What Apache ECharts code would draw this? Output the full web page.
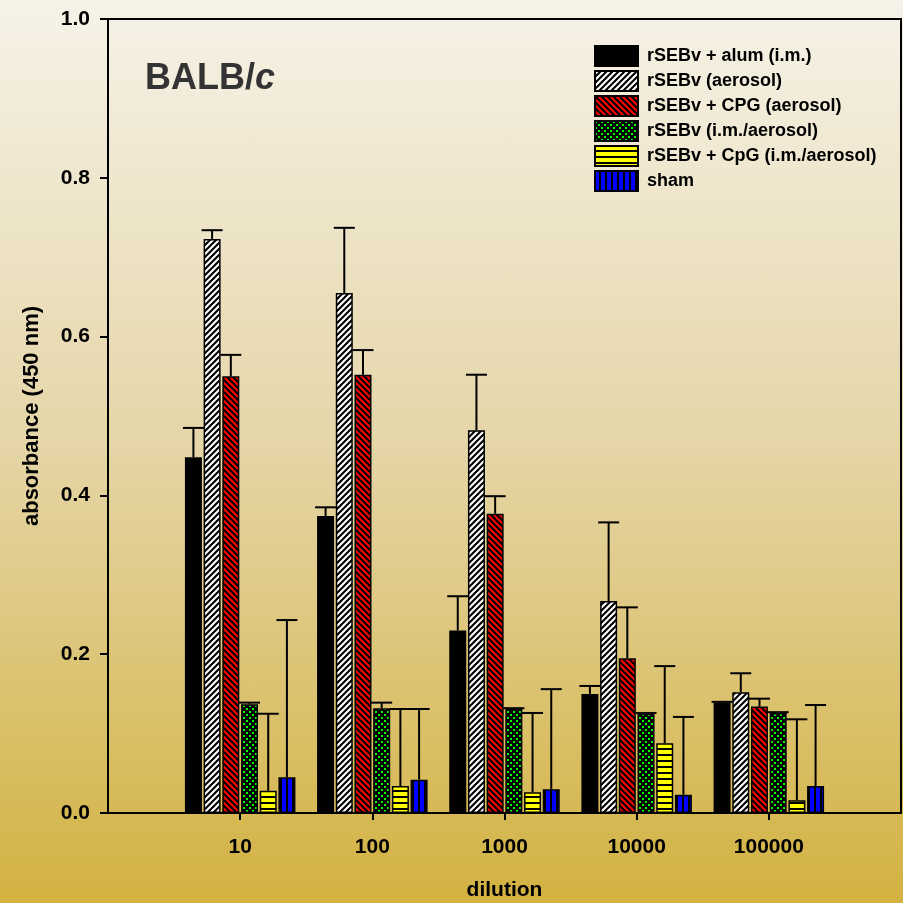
<!DOCTYPE html>
<html><head><meta charset="utf-8">
<script src="https://cdn.jsdelivr.net/npm/echarts@6/dist/echarts.min.js"></script>
<style>
html,body{margin:0;padding:0;}
#c{width:903px;height:903px;background:linear-gradient(to bottom,#f6f2e8 0%,#e5d5a6 50%,#d3b241 100%);}
</style>
</head><body><div id="c"></div>
<script>
// ---- data ----
const dilutions = ['1', '10', '100', '1000', '10000', '100000', '1000000'];
const shownDilutions = ['10', '100', '1000', '10000', '100000'];
const seriesNames = ['rSEBv + alum (i.m.)', 'rSEBv (aerosol)', 'rSEBv + CPG (aerosol)', 'rSEBv (i.m./aerosol)', 'rSEBv + CpG (i.m./aerosol)', 'sham'];
const alumIm = [0.448, 0.374, 0.230, 0.150, 0.139];
const alumImSd = [0.037, 0.011, 0.043, 0.010, 0.001];
const aerosol = [0.723, 0.655, 0.482, 0.267, 0.152];
const aerosolSd = [0.011, 0.082, 0.070, 0.099, 0.024];
const cpgAerosol = [0.550, 0.552, 0.377, 0.195, 0.134];
const cpgAerosolSd = [0.027, 0.031, 0.022, 0.064, 0.010];
const imAerosol = [0.137, 0.132, 0.131, 0.125, 0.126];
const imAerosolSd = [0.002, 0.007, 0.001, 0.001, 0.001];
const cpgImAerosol = [0.028, 0.034, 0.026, 0.088, 0.016];
const cpgImAerosolSd = [0.097, 0.097, 0.100, 0.097, 0.102];
const sham = [0.045, 0.042, 0.030, 0.023, 0.034];
const shamSd = [0.198, 0.089, 0.126, 0.098, 0.102];
const yTicks = [0, 0.2, 0.4, 0.6, 0.8, 1.0];

const allVals = [alumIm, aerosol, cpgAerosol, imAerosol, cpgImAerosol, sham];
const allSd = [alumImSd, aerosolSd, cpgAerosolSd, imAerosolSd, cpgImAerosolSd, shamSd];

// ---- patterns ----
function tile(w, h, draw) {
  const c = document.createElement('canvas');
  c.width = w; c.height = h;
  const ctx = c.getContext('2d');
  draw(ctx, w, h);
  return { image: c, repeat: 'repeat' };
}
const patSolid = '#000000';
const patWhite = tile(6, 6, (ctx, s) => {
  ctx.fillStyle = '#ffffff'; ctx.fillRect(0, 0, s, s);
  ctx.strokeStyle = '#000'; ctx.lineWidth = 2.1;
  ctx.beginPath();
  ctx.moveTo(0, s); ctx.lineTo(s, 0);
  ctx.moveTo(-1, 1); ctx.lineTo(1, -1);
  ctx.moveTo(s - 1, s + 1); ctx.lineTo(s + 1, s - 1);
  ctx.stroke();
});
const patRed = tile(6, 6, (ctx, s) => {
  ctx.fillStyle = '#ff0000'; ctx.fillRect(0, 0, s, s);
  ctx.strokeStyle = '#000'; ctx.lineWidth = 2.1;
  ctx.beginPath();
  ctx.moveTo(0, 0); ctx.lineTo(s, s);
  ctx.moveTo(-1, s - 1); ctx.lineTo(1, s + 1);
  ctx.moveTo(s - 1, -1); ctx.lineTo(s + 1, 1);
  ctx.stroke();
});
const patGreen = tile(6, 6, (ctx, s) => {
  ctx.fillStyle = '#000'; ctx.fillRect(0, 0, s, s);
  ctx.fillStyle = '#00ff00';
  ctx.fillRect(0, 0, 2, 2);
  ctx.fillRect(3, 3, 2, 2);
});
const patYellow = tile(6, 6, (ctx, s) => {
  ctx.fillStyle = '#000'; ctx.fillRect(0, 0, s, s);
  ctx.fillStyle = '#ffff00'; ctx.fillRect(0, 0, s, 4);
});
const patBlue = tile(6, 6, (ctx, s) => {
  ctx.fillStyle = '#000'; ctx.fillRect(0, 0, s, s);
  ctx.fillStyle = '#0000ff'; ctx.fillRect(0, 0, 4, s);
});
const patterns = [patSolid, patWhite, patRed, patGreen, patYellow, patBlue];

const BAR_W = 17;
const GAP = 0.1;
const SLOT = BAR_W * (1 + GAP);
const FONT = '"Liberation Sans", Arial, Helvetica, sans-serif';

const barSeries = seriesNames.map((name, si) => ({
  name: name,
  type: 'bar',
  barWidth: BAR_W,
  barGap: (GAP * 100) + '%',
  itemStyle: { color: patterns[si], borderColor: '#000', borderWidth: 1.5 },
  data: shownDilutions.map((d, i) => [d, allVals[si][i]]),
  z: 2
}));

const errData = [];
allVals.forEach((vals, si) => {
  vals.forEach((v, i) => {
    errData.push([dilutions.indexOf(shownDilutions[i]), si, v, allSd[si][i]]);
  });
});

const errSeries = {
  type: 'custom',
  name: 'err',
  z: 3,
  silent: true,
  encode: { x: 0, y: 2 },
  data: errData,
  renderItem: function (params, api) {
    const cat = api.value(0), si = api.value(1), v = api.value(2), sd = api.value(3);
    const p = api.coord([cat, v]);
    const t = api.coord([cat, v + sd]);
    const x = p[0] + (si - 2.5) * SLOT;
    const half = 10.5;
    const st = { stroke: '#000', lineWidth: 2 };
    return {
      type: 'group',
      children: [
        { type: 'line', shape: { x1: x, y1: p[1], x2: x, y2: t[1] }, style: st },
        { type: 'line', shape: { x1: x - half, y1: t[1], x2: x + half, y2: t[1] }, style: st }
      ]
    };
  }
};

const chart = echarts.init(document.getElementById('c'), null, { renderer: 'canvas' });
chart.setOption({
  backgroundColor: 'transparent',
  animation: false,
  textStyle: { fontFamily: FONT },
  grid: { left: 108, right: 2, top: 19, bottom: 90, containLabel: false, outerBoundsMode: 'none',
    show: true, borderColor: '#000', borderWidth: 2, backgroundColor: 'transparent' },
  legend: {
    orient: 'vertical',
    left: 594, top: 45, padding: 0,
    itemWidth: 43, itemHeight: 20, itemGap: 3,
    icon: 'rect',
    textStyle: { fontFamily: FONT, fontWeight: 'bold', fontSize: 18, color: '#000', padding: [0, 0, 0, 4] },
    data: seriesNames
  },
  graphic: [{
    type: 'text', left: 145, top: 61,
    style: {
      text: '{a|BALB/}{b|c}',
      rich: {
        a: { fontFamily: FONT, fontWeight: 'bold', fontSize: 36, fill: '#333333' },
        b: { fontFamily: FONT, fontWeight: 'bold', fontStyle: 'italic', fontSize: 36, fill: '#333333' }
      }
    }
  }],
  xAxis: {
    type: 'category',
    data: dilutions,
    boundaryGap: false,
    axisLine: { lineStyle: { color: '#000', width: 2 } },
    axisTick: { show: true, inside: false, length: 7, lineStyle: { color: '#000', width: 2 },
      interval: function (idx) { return idx >= 1 && idx <= 5; } },
    axisLabel: { interval: function (idx) { return idx >= 1 && idx <= 5; }, fontFamily: FONT, fontWeight: 'bold', fontSize: 21, color: '#000', margin: 24 },
    splitLine: { show: false },
    name: 'dilution', nameLocation: 'middle', nameGap: 67,
    nameTextStyle: { fontFamily: FONT, fontWeight: 'bold', fontSize: 21, color: '#000' }
  },
  yAxis: {
    type: 'value', min: yTicks[0], max: yTicks[yTicks.length - 1], interval: 0.2,
    axisLine: { show: true, lineStyle: { color: '#000', width: 2 } },
    axisTick: { show: true, length: 8, lineStyle: { color: '#000', width: 2 } },
    axisLabel: { formatter: v => v.toFixed(1), fontFamily: FONT, fontWeight: 'bold', fontSize: 21, color: '#000', margin: 18 },
    splitLine: { show: false },
    name: 'absorbance (450 nm)', nameLocation: 'middle', nameGap: 65,
    nameTextStyle: { fontFamily: FONT, fontWeight: 'bold', fontSize: 22, color: '#000' }
  },
  series: barSeries.concat([errSeries])
});
</script>
</body></html>
